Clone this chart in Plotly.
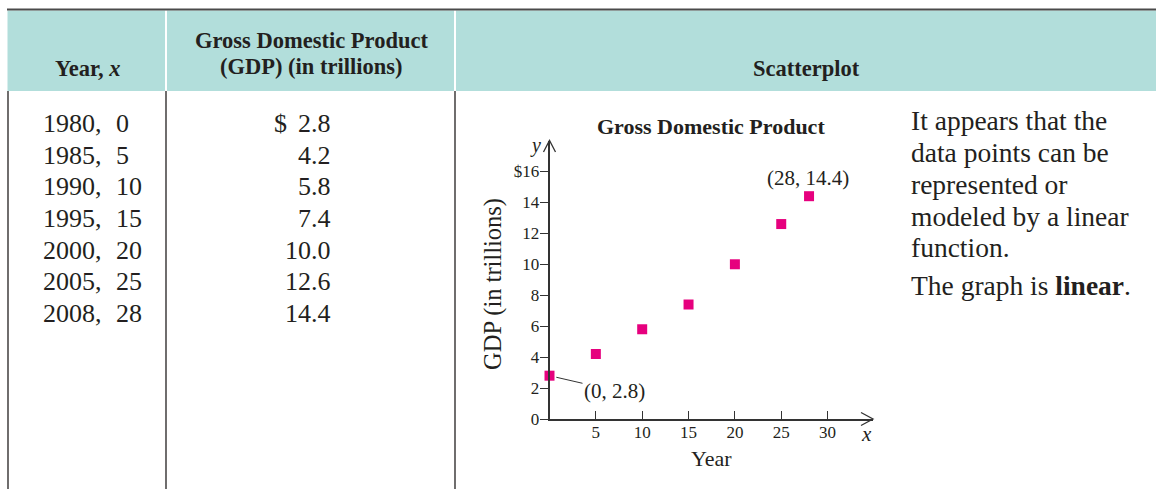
import plotly.graph_objects as go

# ---------------- data ----------------
years = ["1980,", "1985,", "1990,", "1995,", "2000,", "2005,", "2008,"]
year_offsets = [0, 5, 10, 15, 20, 25, 28]
gdp = [2.8, 4.2, 5.8, 7.4, 10.0, 12.6, 14.4]
gdp_labels = ["2.8", "4.2", "5.8", "7.4", "10.0", "12.6", "14.4"]
x_tick_vals = [5, 10, 15, 20, 25, 30]
y_tick_vals = [0, 2, 4, 6, 8, 10, 12, 14, 16]
y_tick_text = ["0", "2", "4", "6", "8", "10", "12", "14", "$16"]
notes = ["It appears that the", "data points can be", "represented or",
         "modeled by a linear", "function.", "The graph is <b>linear</b>."]

W, H = 1156, 489
FIG_H = 499  # compensates the vertical squeeze seen in the photographed page
SERIF = "Liberation Serif"
INK = "#231f20"
TEAL = "#b2dedb"
PINK = "#e6007e"


def px(x):
    return x / W


def py(y):
    return 1 - y / H


fig = go.Figure()
fig.add_trace(go.Scatter(
    x=year_offsets, y=gdp, mode="markers",
    marker=dict(symbol="square", size=10, color=PINK, line=dict(width=0)),
    cliponaxis=False, showlegend=False, hoverinfo="x+y"))

shapes = []
for x0, x1 in [(7.5, 165), (167, 454), (456, 1170)]:
    shapes.append(dict(type="rect", xref="paper", yref="paper",
                       x0=px(x0), x1=px(x1), y0=py(91), y1=py(10.5),
                       fillcolor=TEAL, line=dict(width=0), layer="below"))
shapes.append(dict(type="line", xref="paper", yref="paper",
                   x0=px(7), x1=px(1170), y0=py(9.5), y1=py(9.5),
                   line=dict(color="#4a4a4a", width=2)))
for xv in [8, 166, 455]:
    shapes.append(dict(type="line", xref="paper", yref="paper",
                       x0=px(xv), x1=px(xv), y0=py(91), y1=py(500),
                       line=dict(color=INK, width=1.3)))
shapes.append(dict(type="path", xref="paper", yref="paper",
                   path=f"M {px(543.5)} {py(152)} L {px(549.5)} {py(140.5)} L {px(555.5)} {py(152)}",
                   line=dict(color="#333", width=1.3)))
shapes.append(dict(type="path", xref="paper", yref="paper",
                   path=f"M {px(861)} {py(412.5)} L {px(873)} {py(419)} L {px(861)} {py(425.5)}",
                   line=dict(color="#333", width=1.3)))

ann = []


def txt(x, y, s, size=22, anchor="left", **kw):
    ann.append(dict(xref="paper", yref="paper", x=px(x), y=py(y), text=s,
                    showarrow=False, xanchor=anchor, yanchor="middle",
                    font=dict(family=SERIF, size=size, color=INK), **kw))


# header texts
txt(87, 68, "<b>Year, <i>x</i></b>", 22.5, "center")
txt(311, 40, "<b>Gross Domestic Product</b>", 22.5, "center")
txt(311, 67, "<b>(GDP) (in trillions)</b>", 22.5, "center")
txt(806, 68, "<b>Scatterplot</b>", 22.5, "center")

# table body
row_y = [123.5, 155.2, 186.8, 218.5, 250.2, 281.8, 313.5]
for i, yy in enumerate(row_y):
    txt(41, yy, years[i], 26, "left")
    txt(114, yy, str(year_offsets[i]), 26, "left")
    txt(333, yy, gdp_labels[i], 26, "right")
txt(272, row_y[0], "$", 26, "left")

# right-hand notes
note_y = [121, 153, 184.5, 216, 247.5, 285.5]
for s, yy in zip(notes, note_y):
    txt(909, yy, s, 27.5, "left")

# chart decorations
txt(711, 126, "<b>Gross Domestic Product</b>", 22, "center")
txt(535, 145, "<i>y</i>", 20, "center")
txt(866, 434, "<i>x</i>", 21, "center")
txt(711, 458, "Year", 22, "center")
txt(493, 284, "GDP (in trillions)", 24.5, "center", textangle=-90)

# point labels
ann.append(dict(x=28, y=14.4, xref="x", yref="y", text="(28, 14.4)",
                showarrow=False, yshift=18, xshift=-1,
                font=dict(family=SERIF, size=21, color=INK)))
ann.append(dict(x=0, y=2.8, xref="x", yref="y", text="(0, 2.8)",
                showarrow=True, ax=65, ay=15, arrowhead=0, arrowwidth=1,
                arrowcolor="#333", standoff=7,
                font=dict(family=SERIF, size=21, color=INK)))

fig.update_layout(
    width=W, height=FIG_H, margin=dict(l=0, r=0, t=0, b=0),
    paper_bgcolor="white", plot_bgcolor="white",
    shapes=shapes, annotations=ann, showlegend=False,
    xaxis=dict(domain=[px(549.5), px(873)], range=[0, 34.9],
               tickvals=x_tick_vals, ticks="inside", ticklen=8, tickwidth=1.2,
               tickcolor="#333", showline=True, linecolor="#333", linewidth=1.5,
               showgrid=False, zeroline=False, ticklabelstandoff=-3,
               tickfont=dict(family=SERIF, size=17, color=INK)),
    yaxis=dict(domain=[py(419), py(140.5)], range=[0, 18],
               tickvals=y_tick_vals, ticktext=y_tick_text, ticks="outside",
               ticklen=8, tickwidth=1.2, tickcolor="#333", showline=True,
               linecolor="#333", linewidth=1.5, showgrid=False, zeroline=False,
               ticklabelstandoff=-3,
               tickfont=dict(family=SERIF, size=17, color=INK)),
)

fig.write_html(
    "out.html",
    config={"displayModeBar": False},
    post_script="document.body.style.margin='0';document.body.style.overflow='hidden';",
)
